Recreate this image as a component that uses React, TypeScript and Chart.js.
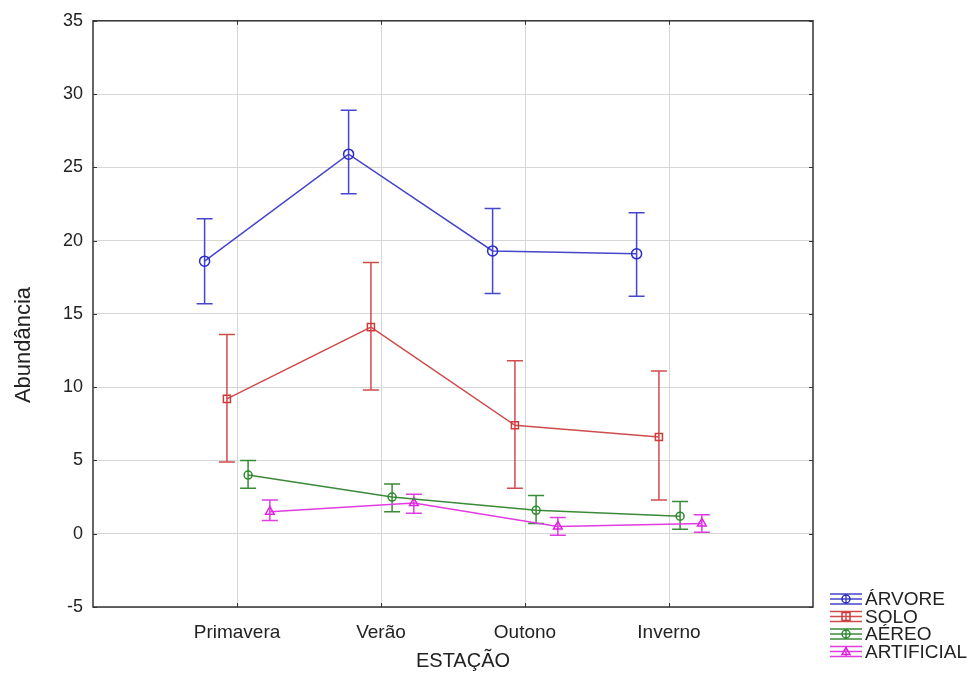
import React, { useEffect, useRef } from "react";
import Chart from "chart.js/auto";

const CATEGORIES = ["Primavera", "Verão", "Outono", "Inverno"];
const SERIES_NAMES = ["ÁRVORE", "SOLO", "AÉREO", "ARTIFICIAL"];

const ARVORE_MEAN = [18.6, 25.9, 19.3, 19.1];
const ARVORE_LOW = [15.7, 23.2, 16.4, 16.2];
const ARVORE_HIGH = [21.5, 28.9, 22.2, 21.9];

const SOLO_MEAN = [9.2, 14.1, 7.4, 6.6];
const SOLO_LOW = [4.9, 9.8, 3.1, 2.3];
const SOLO_HIGH = [13.6, 18.5, 11.8, 11.1];

const AEREO_MEAN = [4.0, 2.5, 1.6, 1.2];
const AEREO_LOW = [3.1, 1.5, 0.7, 0.3];
const AEREO_HIGH = [5.0, 3.4, 2.6, 2.2];

const ARTIFICIAL_MEAN = [1.5, 2.1, 0.5, 0.7];
const ARTIFICIAL_LOW = [0.9, 1.4, -0.1, 0.1];
const ARTIFICIAL_HIGH = [2.3, 2.7, 1.1, 1.3];

const Y_TICKS = [-5, 0, 5, 10, 15, 20, 25, 30, 35];

const FONT = "'Liberation Sans', Arial, sans-serif";

const STYLES = [
  { color: "#2a2ad0", line: "#4646cc", shape: "circle", offset: -0.225, radius: 5 },
  { color: "#d03a3a", line: "#d04c4c", shape: "rect", offset: -0.07, radius: 5 },
  { color: "#2e8a2e", line: "#3a8a3a", shape: "circle", offset: 0.077, radius: 4 },
  { color: "#e020e0", line: "#e03ce0", shape: "triangle", offset: 0.228, radius: 5 },
];

const MEANS = [ARVORE_MEAN, SOLO_MEAN, AEREO_MEAN, ARTIFICIAL_MEAN];
const LOWS = [ARVORE_LOW, SOLO_LOW, AEREO_LOW, ARTIFICIAL_LOW];
const HIGHS = [ARVORE_HIGH, SOLO_HIGH, AEREO_HIGH, ARTIFICIAL_HIGH];

const errorBarPlugin = {
  id: "errorBars",
  beforeDatasetsDraw(chart: any) {
    const { ctx, scales } = chart;
    const xs = scales.x;
    const ys = scales.y;
    chart.data.datasets.forEach((ds: any) => {
      ctx.save();
      ctx.strokeStyle = ds.borderColor;
      ctx.lineWidth = 1.5;
      ds.data.forEach((pt: any, i: number) => {
        const x = xs.getPixelForValue(pt.x);
        const yl = ys.getPixelForValue(ds.low[i]);
        const yh = ys.getPixelForValue(ds.high[i]);
        ctx.beginPath();
        ctx.moveTo(x, yl);
        ctx.lineTo(x, yh);
        ctx.moveTo(x - 8, yl);
        ctx.lineTo(x + 8, yl);
        ctx.moveTo(x - 8, yh);
        ctx.lineTo(x + 8, yh);
        ctx.stroke();
      });
      ctx.restore();
    });
  },
};

const framePlugin = {
  id: "frame",
  afterDraw(chart: any) {
    const { ctx, chartArea: a, scales } = chart;
    ctx.save();
    ctx.strokeStyle = "#333";
    ctx.lineWidth = 1.5;
    ctx.strokeRect(a.left, a.top, a.right - a.left, a.bottom - a.top);
    ctx.lineWidth = 1;
    ctx.beginPath();
    Y_TICKS.forEach((v) => {
      const y = Math.round(scales.y.getPixelForValue(v)) + 0.5;
      ctx.moveTo(a.left, y);
      ctx.lineTo(a.left + 4, y);
      ctx.moveTo(a.right, y);
      ctx.lineTo(a.right - 4, y);
    });
    CATEGORIES.forEach((_, i) => {
      const x = Math.round(scales.x.getPixelForValue(i + 1)) + 0.5;
      ctx.moveTo(x, a.bottom);
      ctx.lineTo(x, a.bottom - 4);
      ctx.moveTo(x, a.top);
      ctx.lineTo(x, a.top + 4);
    });
    ctx.stroke();

    // axis titles
    ctx.fillStyle = "#222";
    ctx.font = `20px ${FONT}`;
    ctx.textAlign = "center";
    ctx.textBaseline = "middle";
    ctx.fillText("ESTAÇÃO", (a.left + a.right) / 2 + 10, 661);
    ctx.save();
    ctx.translate(24, 345);
    ctx.rotate(-Math.PI / 2);
    ctx.font = `22px ${FONT}`;
    ctx.fillText("Abundância", 0, 0);
    ctx.restore();

    // legend
    const lx = 830;
    const lw = 32;
    chart.data.datasets.forEach((ds: any, di: number) => {
      const cy = 599 + di * 17.5;
      const st = STYLES[di];
      ctx.strokeStyle = ds.borderColor;
      ctx.lineWidth = 1.5;
      ctx.beginPath();
      ctx.moveTo(lx, cy - 5);
      ctx.lineTo(lx + lw, cy - 5);
      ctx.moveTo(lx, cy);
      ctx.lineTo(lx + lw, cy);
      ctx.moveTo(lx, cy + 5);
      ctx.lineTo(lx + lw, cy + 5);
      ctx.moveTo(lx + lw / 2, cy - 5);
      ctx.lineTo(lx + lw / 2, cy + 5);
      ctx.stroke();
      ctx.strokeStyle = st.color;
      ctx.beginPath();
      if (st.shape === "rect") {
        ctx.rect(lx + lw / 2 - 4, cy - 4, 8, 8);
      } else if (st.shape === "triangle") {
        ctx.moveTo(lx + lw / 2, cy - 4);
        ctx.lineTo(lx + lw / 2 + 4, cy + 3);
        ctx.lineTo(lx + lw / 2 - 4, cy + 3);
        ctx.closePath();
      } else {
        ctx.arc(lx + lw / 2, cy, 4, 0, Math.PI * 2);
      }
      ctx.stroke();
      ctx.fillStyle = "#222";
      ctx.font = `19px ${FONT}`;
      ctx.textAlign = "left";
      ctx.textBaseline = "middle";
      ctx.fillText(ds.label, lx + lw + 3, cy + 1);
    });
    ctx.restore();
  },
};

export default function App() {
  const ref = useRef<HTMLCanvasElement | null>(null);
  useEffect(() => {
    if (!ref.current) return;
    const datasets = SERIES_NAMES.map((name, si) => ({
      label: name,
      data: MEANS[si].map((v, i) => ({ x: i + 1 + STYLES[si].offset, y: v })),
      low: LOWS[si],
      high: HIGHS[si],
      showLine: true,
      borderColor: STYLES[si].line,
      pointBorderColor: STYLES[si].color,
      pointBackgroundColor: "rgba(255,255,255,0)",
      pointStyle: STYLES[si].shape,
      pointRadius: STYLES[si].radius,
      pointBorderWidth: 1.5,
      borderWidth: 1.5,
      tension: 0,
    }));
    const chart = new Chart(ref.current, {
      type: "scatter",
      data: { datasets } as any,
      options: {
        animation: false,
        responsive: false,
        devicePixelRatio: 1,
        layout: { padding: { top: 20, left: 0, right: 161, bottom: 0 } },
        plugins: { legend: { display: false }, tooltip: { enabled: false } },
        scales: {
          x: {
            type: "linear",
            min: 0,
            max: 5,
            afterBuildTicks: (s: any) => {
              s.ticks = CATEGORIES.map((_, i) => ({ value: i + 1 }));
            },
            afterFit: (s: any) => {
              s.height = 68;
            },
            grid: { color: "#d6d6d6", drawTicks: false, lineWidth: 1 },
            border: { display: false },
            ticks: {
              padding: 14,
              color: "#222",
              font: { family: FONT, size: 19 },
              callback: (v: any) => CATEGORIES[Math.round(v) - 1] ?? "",
              maxRotation: 0,
              autoSkip: false,
            },
          },
          y: {
            type: "linear",
            min: -5,
            max: 35,
            afterBuildTicks: (s: any) => {
              s.ticks = Y_TICKS.map((v) => ({ value: v }));
            },
            afterFit: (s: any) => {
              s.width = 93;
            },
            grid: { color: "#d6d6d6", drawTicks: false, lineWidth: 1 },
            border: { display: false },
            ticks: {
              padding: 10,
              color: "#222",
              font: { family: FONT, size: 18 },
            },
          },
        },
      },
      plugins: [errorBarPlugin, framePlugin],
    } as any);
    return () => chart.destroy();
  }, []);
  return (
    <div style={{ position: "fixed", left: 0, top: 0, width: 974, height: 675, background: "#fff" }}>
      <canvas ref={ref} width={974} height={675} style={{ width: 974, height: 675 }} />
    </div>
  );
}
